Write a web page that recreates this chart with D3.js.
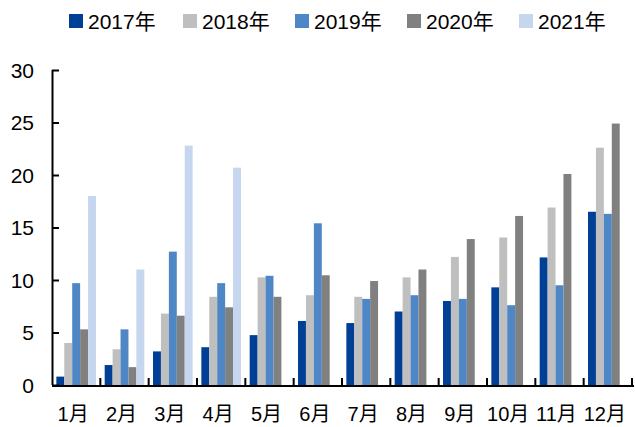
<!DOCTYPE html>
<html><head><meta charset="utf-8">
<script src="https://cdn.jsdelivr.net/npm/d3@7"></script>
<style>
html,body{margin:0;padding:0;background:#fff;}
svg{display:block;font-family:"Liberation Sans","Noto Sans CJK SC",sans-serif;}
</style></head>
<body><svg id="c" width="635" height="427"></svg>
<script>
const months = ["1月","2月","3月","4月","5月","6月","7月","8月","9月","10月","11月","12月"];
const seriesNames = ["2017年","2018年","2019年","2020年","2021年"];
const colors = ["#003f96","#bfbfbf","#4f86c6","#808080","#c5d6ee"];
const v2017 = [0.8,1.9,3.2,3.6,4.75,6.1,5.9,7.0,8.0,9.3,12.15,16.5];
const v2018 = [4.0,3.4,6.8,8.4,10.25,8.55,8.4,10.25,12.2,14.05,16.9,22.6];
const v2019 = [9.7,5.3,12.7,9.7,10.4,15.4,8.2,8.55,8.2,7.6,9.5,16.3];
const v2020 = [5.3,1.7,6.6,7.4,8.4,10.45,9.9,11.0,13.9,16.1,20.1,24.9];
const v2021 = [18.0,11.0,22.8,20.7,null,null,null,null,null,null,null,null];
const yTicks = [0,5,10,15,20,25,30];
const allSeries = [v2017,v2018,v2019,v2020,v2021];

const svg = d3.select("#c");
const mLeft = 52, mRight = 632, mTop = 70, mBottom = 385;
const x0 = d3.scaleBand().domain(months).range([mLeft,mRight]).paddingInner(0.18).paddingOuter(0.09);
const x1 = d3.scaleBand().domain(d3.range(5)).range([0,x0.bandwidth()]).padding(0);
const y = d3.scaleLinear().domain([0,30]).range([mBottom,mTop]);
const step = (mRight-mLeft)/months.length;

// bars
allSeries.forEach((vals,si)=>{
  svg.append("g").selectAll("rect").data(months.map((m,i)=>({m,v:vals[i]})).filter(d=>d.v!=null))
    .join("rect")
    .attr("x",d=>x0(d.m)+x1(si))
    .attr("y",d=>y(d.v))
    .attr("width",x1.bandwidth())
    .attr("height",d=>y(0)-y(d.v))
    .attr("fill",colors[si]);
});

// y axis
const ya = svg.append("g").attr("transform",`translate(${mLeft},0)`)
  .call(d3.axisRight(y).tickValues(yTicks).tickSize(7).tickFormat(""));
ya.select(".domain").attr("stroke","#000").attr("stroke-width",2).attr("d",`M0.5,${mTop}V${mBottom}`);
ya.selectAll(".tick line").attr("stroke","#000").attr("stroke-width",2);
svg.append("g").selectAll("text").data(yTicks).join("text")
  .attr("x",34).attr("y",d=>y(d)+7.5).attr("text-anchor","end")
  .attr("font-size",21).attr("fill","#000").text(d=>d);

// x axis
svg.append("line").attr("x1",mLeft).attr("x2",mRight+2).attr("y1",mBottom+1).attr("y2",mBottom+1)
  .attr("stroke","#000").attr("stroke-width",2);
svg.append("g").selectAll("line").data(d3.range(1,months.length+1)).join("line")
  .attr("x1",i=>mLeft+i*step).attr("x2",i=>mLeft+i*step)
  .attr("y1",mBottom+1).attr("y2",mBottom-7)
  .attr("stroke","#000").attr("stroke-width",2);
svg.append("g").selectAll("text").data(months).join("text")
  .attr("x",d=>x0(d)+x0.bandwidth()/2-3).attr("y",421).attr("text-anchor","middle")
  .attr("font-size",20).attr("fill","#000").text(d=>d);

// legend
const legX = [69,183,295,407,519];
const lg = svg.append("g");
seriesNames.forEach((n,i)=>{
  lg.append("rect").attr("x",legX[i]).attr("y",14).attr("width",14).attr("height",14).attr("fill",colors[i]);
  lg.append("text").attr("x",legX[i]+19).attr("y",29).attr("font-size",21).attr("fill","#000").text(n);
});
</script></body></html>
